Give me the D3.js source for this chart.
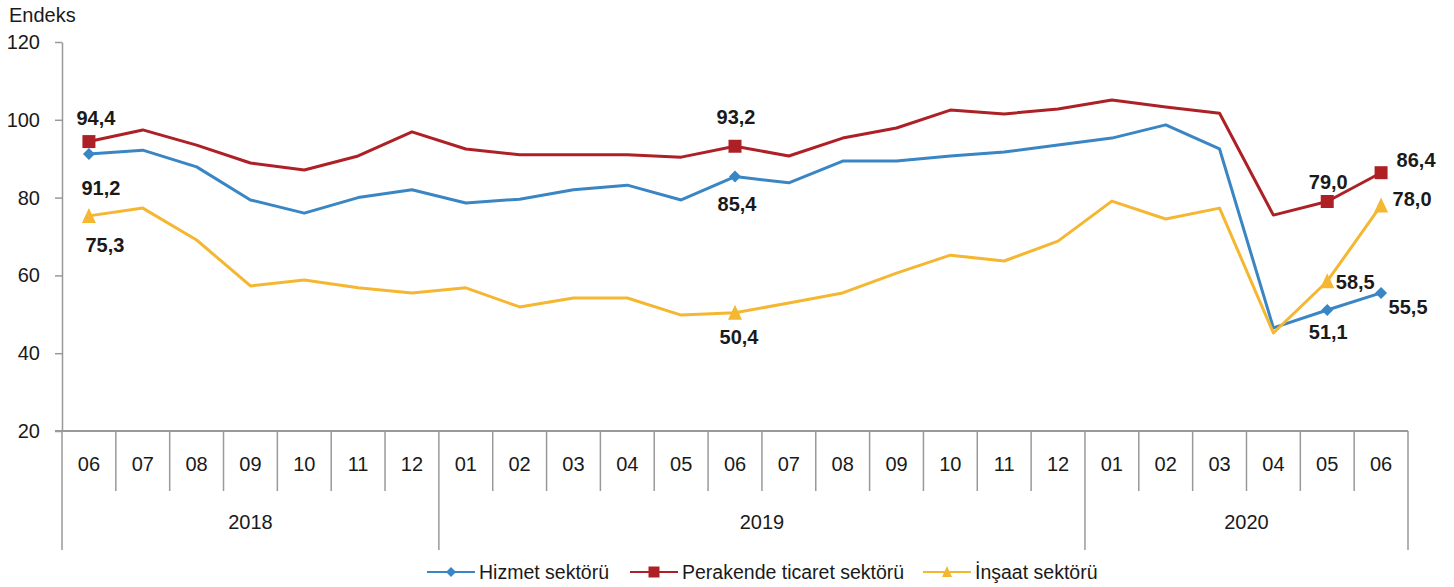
<!DOCTYPE html>
<html>
<head>
<meta charset="utf-8">
<script src="https://cdn.jsdelivr.net/npm/d3@7"></script>
<style>
  body { margin: 0; background: #fff; }
  text { font-family: Arial, "Liberation Sans", sans-serif; fill: #1a1a1a; }
</style>
</head>
<body>
<div id="chart"></div>
<script>
// months shown on the axis, June 2018 .. June 2020
var months = ["06","07","08","09","10","11","12",
              "01","02","03","04","05","06","07","08","09","10","11","12",
              "01","02","03","04","05","06"];
var years = ["2018", "2019", "2020"];
var yearStart = [0, 7, 19];   // first month index of each year
var yearEnd = [7, 19, 25];

var hizmet = [91.2, 92.2, 87.9, 79.4, 76.0, 80.0, 82.0, 78.6, 79.6, 82.0, 83.2, 79.4,
              85.4, 83.8, 89.4, 89.4, 90.7, 91.7, 93.5, 95.3, 98.7, 92.5, 46.5, 51.1, 55.5];
var perakende = [94.4, 97.4, 93.5, 88.9, 87.1, 90.7, 96.9, 92.5, 91.0, 91.0, 91.0, 90.4,
                 93.2, 90.7, 95.3, 97.9, 102.5, 101.5, 102.8, 105.1, 103.3, 101.7, 75.5, 79.0, 86.4];
var insaat = [75.3, 77.3, 69.1, 57.3, 58.8, 56.8, 55.5, 56.8, 51.9, 54.2, 54.2, 49.8,
              50.4, 52.9, 55.5, 60.6, 65.2, 63.7, 68.8, 79.1, 74.5, 77.3, 45.2, 58.5, 78.0];

var yTicks = [20, 40, 60, 80, 100, 120];
var markedIdx = [0, 12, 23, 24];

var series = [
  {name: "Hizmet sektörü", values: hizmet, color: "#3a86c4", marker: "diamond",
   labels: {0: [12, 34], 12: [2, 27], 23: [1, 22], 24: [27, 14]}},
  {name: "Perakende ticaret sektörü", values: perakende, color: "#ad2026", marker: "square",
   labels: {0: [7, -24], 12: [1, -29], 23: [1, -20], 24: [35, -13]}},
  {name: "İnşaat sektörü", values: insaat, color: "#f5b731", marker: "triangle",
   labels: {0: [16, 29], 12: [4, 24], 23: [28, 1], 24: [31, -7]}}
];

var W = 1454, H = 587;
var svg = d3.select("#chart").append("svg")
    .attr("width", W)
    .attr("height", H);

var x = d3.scaleBand()
    .domain(d3.range(months.length))
    .range([62, 1408]);
var y = d3.scaleLinear()
    .domain([20, 120])
    .range([431, 42]);

var axisColor = "#999";

// y axis
var yAxis = svg.append("g")
    .attr("transform", "translate(62,0)")
    .call(d3.axisLeft(y).tickValues(yTicks).tickSize(7).tickSizeOuter(0).tickPadding(15));
yAxis.selectAll("path, line").attr("stroke", axisColor).attr("stroke-width", 1.5);
yAxis.selectAll("text").attr("font-size", 20).attr("font-family", "Arial, 'Liberation Sans', sans-serif").attr("fill", "#1a1a1a");

svg.append("text")
    .attr("x", 9).attr("y", 22)
    .attr("font-size", 20)
    .text("Endeks");

// x axis baseline
svg.append("line")
    .attr("x1", 55).attr("x2", 1408)
    .attr("y1", y(20)).attr("y2", y(20))
    .attr("stroke", axisColor).attr("stroke-width", 2);

// month dividers
var monthEdges = d3.range(months.length + 1);
svg.selectAll(".mdiv")
    .data(monthEdges.filter(function(i){ return yearStart.concat([25]).indexOf(i) < 0; }))
    .enter().append("line")
    .attr("class", "mdiv")
    .attr("x1", function(i){ return i < months.length ? x(i) : 1408; })
    .attr("x2", function(i){ return i < months.length ? x(i) : 1408; })
    .attr("y1", 431).attr("y2", 491)
    .attr("stroke", axisColor).attr("stroke-width", 1.5);

// year dividers
svg.selectAll(".ydiv")
    .data(yearStart.concat([25]))
    .enter().append("line")
    .attr("class", "ydiv")
    .attr("x1", function(i){ return i < months.length ? x(i) : 1408; })
    .attr("x2", function(i){ return i < months.length ? x(i) : 1408; })
    .attr("y1", 431).attr("y2", 550)
    .attr("stroke", axisColor).attr("stroke-width", 1.5);

svg.selectAll(".mlab")
    .data(months)
    .enter().append("text")
    .attr("class", "mlab")
    .attr("x", function(d, i){ return x(i) + x.bandwidth() / 2; })
    .attr("y", 471)
    .attr("text-anchor", "middle")
    .attr("font-size", 20)
    .text(function(d){ return d; });

svg.selectAll(".ylab")
    .data(years)
    .enter().append("text")
    .attr("class", "ylab")
    .attr("x", function(d, i){
      var a = x(yearStart[i]);
      var b = yearEnd[i] < months.length ? x(yearEnd[i]) : 1408;
      return (a + b) / 2;
    })
    .attr("y", 529)
    .attr("text-anchor", "middle")
    .attr("font-size", 20)
    .text(function(d){ return d; });

// lines
var line = d3.line()
    .x(function(d, i){ return x(i) + x.bandwidth() / 2; })
    .y(function(d){ return y(d); });

function markerPath(type, cx, cy, s) {
  if (type === "square") {
    return "M" + (cx - s/2) + "," + (cy - s/2) + "h" + s + "v" + s + "h" + (-s) + "Z";
  }
  if (type === "diamond") {
    return "M" + cx + "," + (cy - s/2) + "L" + (cx + s/2) + "," + cy + "L" + cx + "," + (cy + s/2) + "L" + (cx - s/2) + "," + cy + "Z";
  }
  // triangle
  return "M" + cx + "," + (cy - s/2 - 1) + "L" + (cx + s/2) + "," + (cy + s/2) + "L" + (cx - s/2) + "," + (cy + s/2) + "Z";
}
var markerSize = {square: 13, diamond: 12, triangle: 14};

series.forEach(function(s) {
  svg.append("path")
      .datum(s.values)
      .attr("d", line)
      .attr("fill", "none")
      .attr("stroke", s.color)
      .attr("stroke-width", 3)
      .attr("stroke-linejoin", "round");
});

series.forEach(function(s) {
  svg.selectAll(null)
      .data(markedIdx)
      .enter().append("path")
      .attr("d", function(i){
        return markerPath(s.marker, x(i) + x.bandwidth() / 2, y(s.values[i]), markerSize[s.marker]);
      })
      .attr("fill", s.color);
});

// value labels
series.forEach(function(s) {
  svg.selectAll(null)
      .data(markedIdx)
      .enter().append("text")
      .attr("x", function(i){ return x(i) + x.bandwidth() / 2 + s.labels[i][0]; })
      .attr("y", function(i){ return y(s.values[i]) + s.labels[i][1]; })
      .attr("dy", "0.36em")
      .attr("text-anchor", "middle")
      .attr("font-size", 20)
      .attr("font-weight", "bold")
      .text(function(i){ return d3.format(".1f")(s.values[i]).replace(".", ","); });
});

// legend
var legendX = [427, 630, 923];
var legend = svg.selectAll(".leg")
    .data(series)
    .enter().append("g")
    .attr("class", "leg")
    .attr("transform", function(d, i){ return "translate(" + legendX[i] + ",572)"; });
legend.append("line")
    .attr("x1", 0).attr("x2", 48)
    .attr("y1", 0).attr("y2", 0)
    .attr("stroke", function(d){ return d.color; })
    .attr("stroke-width", 2);
legend.append("path")
    .attr("d", function(d){ return markerPath(d.marker, 24, 0, d.marker === "square" ? 11 : 10); })
    .attr("fill", function(d){ return d.color; });
legend.append("text")
    .attr("x", 52)
    .attr("y", 0)
    .attr("dy", "0.36em")
    .attr("font-size", 19.5)
    .text(function(d){ return d.name; });
</script>
</body>
</html>
